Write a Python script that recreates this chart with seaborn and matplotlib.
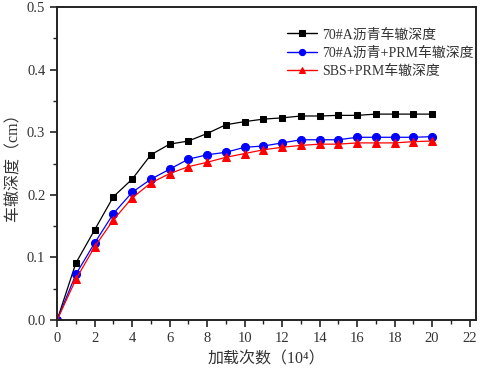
import matplotlib
matplotlib.use("Agg")
import matplotlib.pyplot as plt
import seaborn as sns
import pandas as pd
from matplotlib.ticker import MultipleLocator

loads = list(range(0, 21))
asphalt70 = [0.0, 0.091, 0.144, 0.197, 0.225, 0.264, 0.281, 0.286, 0.298, 0.312, 0.317,
             0.321, 0.323, 0.326, 0.326, 0.327, 0.327, 0.329, 0.329, 0.329, 0.329]
asphalt70_prm = [0.0, 0.073, 0.123, 0.170, 0.204, 0.225, 0.241, 0.257, 0.264, 0.268, 0.276,
                 0.278, 0.283, 0.288, 0.288, 0.288, 0.292, 0.292, 0.292, 0.292, 0.293]
sbs_prm = [0.0, 0.065, 0.117, 0.160, 0.195, 0.219, 0.234, 0.245, 0.252, 0.260, 0.266,
           0.272, 0.276, 0.279, 0.281, 0.281, 0.283, 0.283, 0.283, 0.285, 0.286]
labels = ["70#A沥青车辙深度", "70#A沥青+PRM车辙深度", "SBS+PRM车辙深度"]
colors = ["#000000", "#0000ff", "#ff0000"]
markers = ["s", "o", "^"]
msizes = [5.0, 5.8, 5.8]

sns.set_style("ticks")
fams = ["Liberation Serif", "Noto Sans CJK SC"]
plt.rcParams["font.family"] = fams

fig = plt.figure(figsize=(4.8, 3.73), dpi=100)
ax = fig.add_axes([0.119, 0.142, 0.873, 0.839])

for vals, lab, c, m, ms in zip([asphalt70, asphalt70_prm, sbs_prm], labels, colors, markers, msizes):
    df = pd.DataFrame({"x": loads, "y": vals})
    sns.lineplot(data=df, x="x", y="y", ax=ax, color=c, marker=m, markersize=ms,
                 markeredgecolor=c, linewidth=0.9, label=lab)

ax.set_xlim(0, 22.35)
ax.set_ylim(0, 0.5)
ax.xaxis.set_major_locator(MultipleLocator(2))
ax.xaxis.set_minor_locator(MultipleLocator(1))
ax.yaxis.set_major_locator(MultipleLocator(0.1))
ax.yaxis.set_minor_locator(MultipleLocator(0.05))
ax.set_yticklabels([f"{v:.1f}" for v in ax.get_yticks()])
ax.tick_params(which="major", direction="out", length=5, width=1.2, labelsize=10.5, colors="#222222", labelcolor="#333333")
ax.tick_params(which="minor", direction="out", length=3, width=1.0, colors="#222222")
ax.tick_params(top=False, right=False, which="both")
for s in ax.spines.values():
    s.set_linewidth(1.4)
    s.set_color("#222222")
ax.set_xlabel("加载次数（10⁴）", fontsize=11.5, color="#333333", labelpad=5)
ax.set_ylabel("车辙深度（cm）", fontsize=11.5, color="#333333", labelpad=4)

leg = ax.legend(loc="upper left", bbox_to_anchor=(0.518, 0.973), frameon=False, fontsize=10,
                handlelength=2.2, handletextpad=0.35, labelspacing=0.36, borderpad=0.4)
for t in leg.get_texts():
    t.set_color("#333333")
for h in leg.legend_handles:
    h.set_markersize(4.5)
    h.set_linewidth(1.0)

fig.savefig("out.png", dpi=100)
